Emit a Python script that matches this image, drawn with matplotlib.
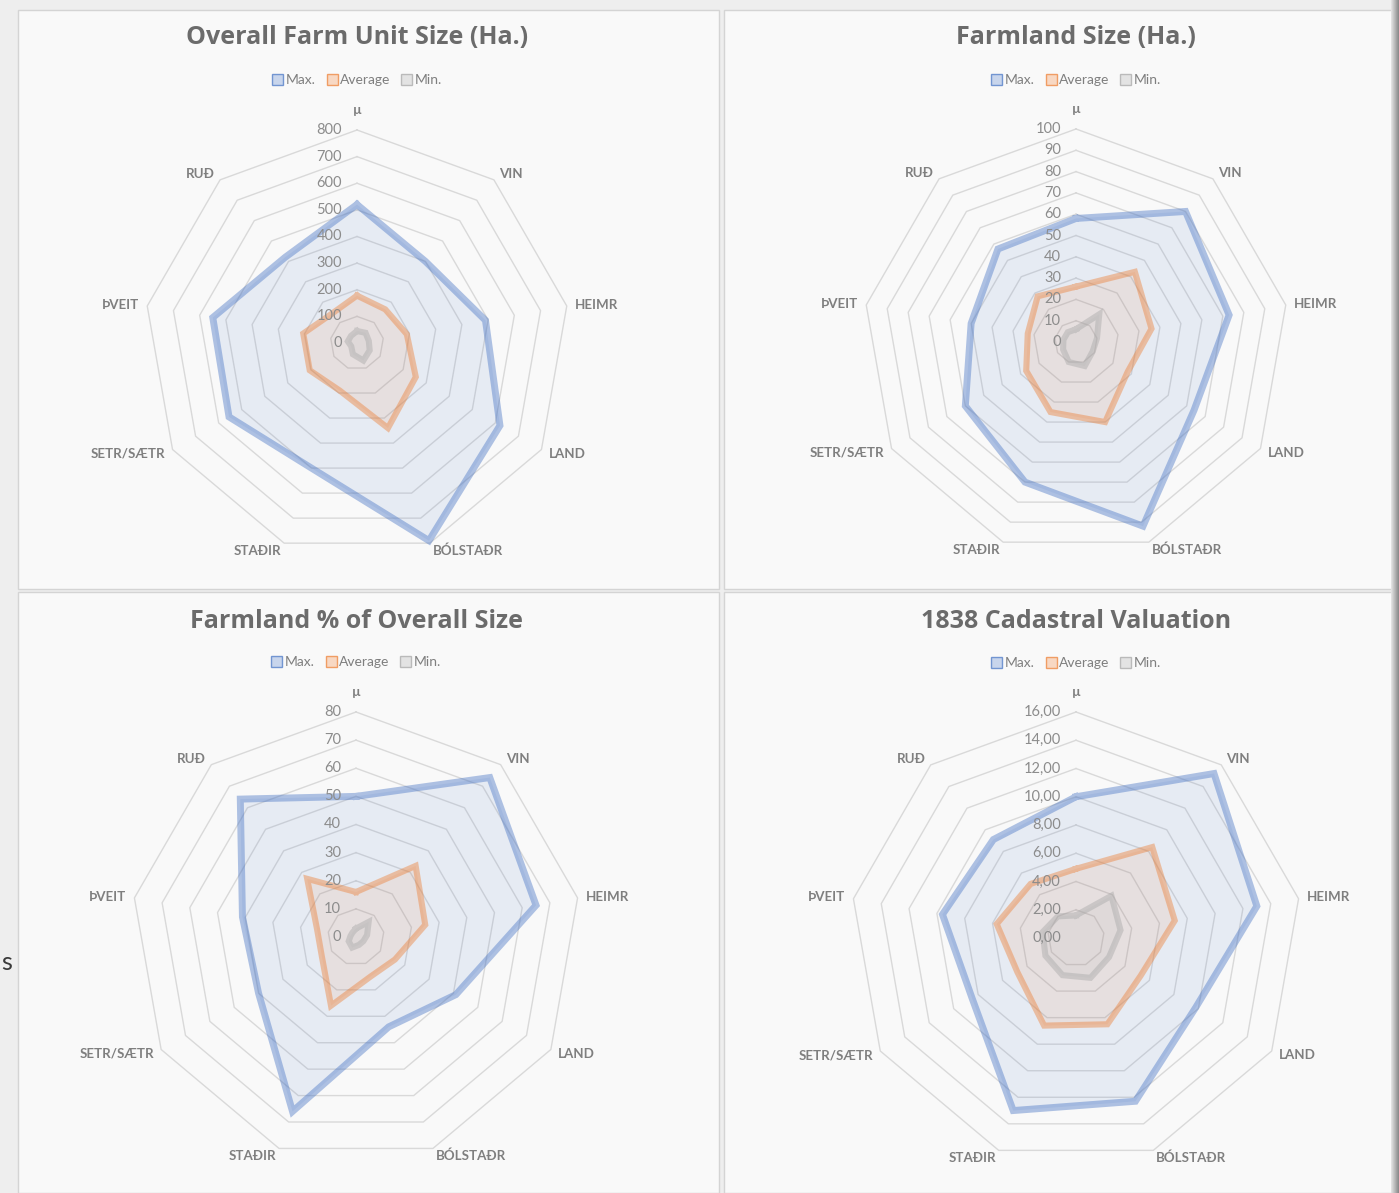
import numpy as np
import matplotlib.pyplot as plt
from matplotlib.patches import Patch, Rectangle

plt.rcParams['font.family'] = ['Lato', 'DejaVu Sans']

categories = ['µ', 'VIN', 'HEIMR', 'LAND', 'BÓLSTAÐR', 'STAÐIR', 'SETR/SÆTR', 'ÞVEIT', 'RUÐ']
series_names = ['Max.', 'Average', 'Min.']

# overall farm unit size (ha)
unit_max = [520, 400, 490, 620, 790, 500, 555, 550, 420]
unit_avg = [178, 165, 190, 255, 340, 190, 205, 205, 145]
unit_min = [45, 50, 45, 55, 70, 45, 25, 35, 35]

# farmland size (ha)
farm_max = [58, 80, 73, 64, 92, 70, 60, 50, 57]
farm_avg = [26, 43, 36, 28, 40, 35, 27, 23, 28]
farm_min = [6, 17, 10, 9, 12, 10, 7, 6, 6]

# farmland as % of overall size
share_max = [50, 74, 65, 41, 34, 66, 40, 41, 64]
share_avg = [16, 33, 25, 16, 15, 26, 14, 14, 27]
share_min = [3, 7, 4, 3, 3, 4, 3, 2, 2]

# 1838 cadastral valuation
value_max = [10.0, 15.2, 13.0, 9.8, 12.3, 13.0, 8.5, 9.6, 9.1]
value_avg = [4.9, 8.4, 7.1, 5.3, 6.5, 6.6, 4.8, 5.7, 5.0]
value_min = [1.6, 3.9, 3.2, 2.7, 3.0, 2.8, 2.5, 2.4, 2.0]

titles = ['Overall Farm Unit Size (Ha.)', 'Farmland Size (Ha.)',
          'Farmland % of Overall Size', '1838 Cadastral Valuation']
axis_max = [800, 100, 80, 16]
axis_step = [100, 10, 10, 2]

W, H = 1399, 1193
fig = plt.figure(figsize=(W / 100, H / 100), dpi=100, facecolor='#eeeeee')


def fx(x):
    return x / W


def fy(y):
    return 1 - y / H


line_colors = ['#4472C4', '#ED7D31', '#A5A5A5']
legend_fill = ['#b4c7e7', '#f8cbad', '#dbdbdb']
line_widths = [5.0, 4.4, 4.4]
text_grey = '#7f7f7f'

# panel boxes (left, top, right, bottom) in pixels
panels = [(18, 10, 719, 589), (724, 10, 1392, 589),
          (18, 592, 719, 1193), (724, 592, 1392, 1193)]
for l, t, r, b in panels:
    fig.add_artist(Rectangle((fx(l), fy(b)), (r - l) / W, (b - t) / H,
                             transform=fig.transFigure, facecolor='#f9f9f9',
                             edgecolor='#d4d4d4', linewidth=1, zorder=-5))

# drop shadow on the right edge
shade = fig.add_axes([fx(1391), 0, 8 / W, 1])
shade.imshow(np.linspace(0.88, 0.55, 8)[None, :], cmap='gray', vmin=0, vmax=1,
             aspect='auto', extent=(0, 1, 0, 1))
shade.axis('off')

# stray letter from the page behind
fig.text(fx(7), fy(962), 's', fontsize=18, color='#3a3a3a', ha='center', va='center')

# centre x, centre y, radius in pixels
layout = [(357, 343, 213), (1076, 342, 213), (356, 937, 225), (1076, 938, 226)]
title_y = [38, 37, 621, 622]
legend_y = [80, 80, 662, 663]

data = [(unit_max, unit_avg, unit_min), (farm_max, farm_avg, farm_min),
        (share_max, share_avg, share_min), (value_max, value_avg, value_min)]

theta = np.linspace(0, 2 * np.pi, len(categories), endpoint=False)
theta_c = np.append(theta, theta[0])

for i, (cx, cy, R) in enumerate(layout):
    ax = fig.add_axes([fx(cx - R), fy(cy + R), 2 * R / W, 2 * R / H], projection='polar')
    ax.set_theta_zero_location('N')
    ax.set_theta_direction(-1)
    ax.set_ylim(0, axis_max[i])
    ax.patch.set_alpha(0)
    ax.spines['polar'].set_visible(False)
    ax.grid(False)
    ax.set_xticks([])
    ax.set_yticks([])

    ticks = np.arange(0, axis_max[i] + axis_step[i] / 2, axis_step[i])
    for v in ticks[1:]:
        ax.plot(theta_c, np.full(len(theta_c), v), color='#d9d9d9', lw=1, zorder=1,
                clip_on=False)
    for v in ticks:
        lab = f'{v:.2f}'.replace('.', ',') if i == 3 else f'{v:.0f}'
        ax.annotate(lab, xy=(0, v), xytext=(-15, 0), textcoords='offset pixels',
                    ha='right', va='center', fontsize=10.5, color='#8c8c8c', zorder=6)

    for k, vals in enumerate(data[i]):
        v = np.append(vals, vals[0])
        ax.fill(theta_c, v, color=line_colors[k], alpha=0.1, lw=0, zorder=2 + k)
        ax.plot(theta_c, v, color=line_colors[k], alpha=0.42, lw=line_widths[k],
                solid_joinstyle='miter', zorder=3 + k, clip_on=False)

    for th, cat in zip(theta, categories):
        s, c = np.sin(th), np.cos(th)
        if abs(s) < 0.1:
            ha, off = 'center', 20
        else:
            ha, off = ('left' if s > 0 else 'right'), 8
        ax.annotate(cat, xy=(th, axis_max[i]), xytext=(off * s, off * c),
                    textcoords='offset pixels', ha=ha, va='center', fontsize=9.6,
                    fontweight='bold', color=text_grey, annotation_clip=False)

    fig.text(fx(cx), fy(title_y[i]), titles[i], ha='center', va='center',
             fontsize=18, fontweight='bold', color='#6b6b6b', family='Open Sans')

    handles = [Patch(facecolor=legend_fill[k], edgecolor=line_colors[k], alpha=0.7,
                     label=series_names[k]) for k in range(3)]
    ax.legend(handles=handles, loc='center', bbox_to_anchor=(fx(cx), fy(legend_y[i])),
              bbox_transform=fig.transFigure, ncol=3, frameon=False, fontsize=10,
              handlelength=0.8, handleheight=0.8, handletextpad=0.15,
              columnspacing=0.8, labelcolor=text_grey)

fig.savefig('out.png', dpi=100, facecolor=fig.get_facecolor())
